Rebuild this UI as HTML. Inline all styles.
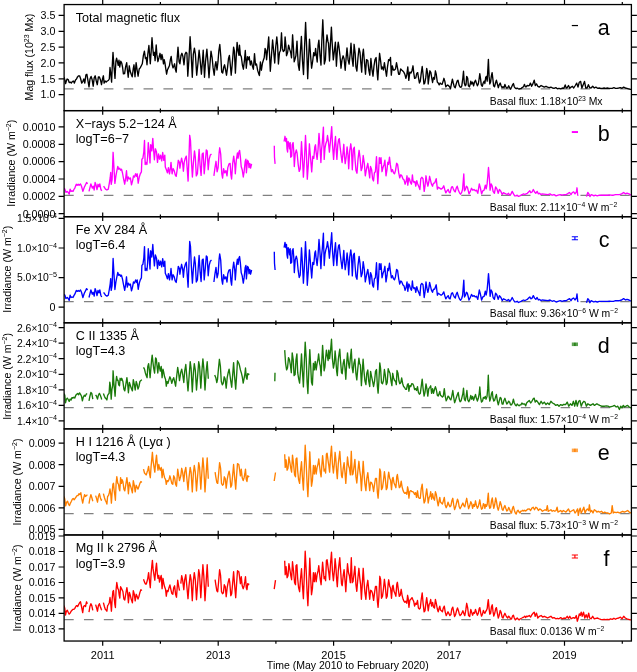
<!DOCTYPE html><html><head><meta charset="utf-8"><style>html,body{margin:0;padding:0;background:#fff;}svg{display:block;will-change:transform;}text{font-family:"Liberation Sans", sans-serif;fill:#000;}</style></head><body>
<svg width="637" height="672" viewBox="0 0 637 672">
<defs><clipPath id="pc"><rect x="64.1" y="0" width="567.30" height="672"/></clipPath></defs>
<line x1="64.1" y1="88.9" x2="631.4" y2="88.9" stroke="#808080" stroke-width="1.1" stroke-dasharray="9.6 10.26"/>
<line x1="64.1" y1="195.4" x2="631.4" y2="195.4" stroke="#808080" stroke-width="1.1" stroke-dasharray="9.6 10.26"/>
<line x1="64.1" y1="301.6" x2="631.4" y2="301.6" stroke="#808080" stroke-width="1.1" stroke-dasharray="9.6 10.26"/>
<line x1="64.1" y1="407.6" x2="631.4" y2="407.6" stroke="#808080" stroke-width="1.1" stroke-dasharray="9.6 10.26"/>
<line x1="64.1" y1="513.6" x2="631.4" y2="513.6" stroke="#808080" stroke-width="1.1" stroke-dasharray="9.6 10.26"/>
<line x1="64.1" y1="619.6" x2="631.4" y2="619.6" stroke="#808080" stroke-width="1.1" stroke-dasharray="9.6 10.26"/>
<path d="M64.0 76.9L64.8 80.0L65.6 83.6L66.3 81.0L67.1 79.0L68.2 79.5L69.2 82.6L70.2 82.1L71.3 83.1L72.3 81.6L73.4 81.0L74.4 83.1L75.5 80.0L76.5 79.0L77.5 76.9L78.6 75.8L79.6 75.8L80.7 79.0L81.7 83.1L82.8 81.6L83.8 79.0L84.8 83.1L85.9 74.8L86.9 74.3L88.2 82.1L89.0 86.8L90.0 79.0L91.1 76.4L92.1 79.5L93.2 86.2L94.2 77.9L95.2 75.8L96.3 81.0L97.3 84.7L98.4 76.9L99.4 76.9L100.5 80.0L101.5 84.7L102.5 79.0L103.4 75.8L104.1 83.1L105.1 81.0L106.2 82.1L107.2 81.0L108.3 80.5L109.3 79.0L110.0 67.5L110.9 74.8L111.6 82.1L112.4 63.3L113.0 52.4L113.8 64.4L115.0 78.4L115.9 61.2L116.6 58.1L117.3 61.2L118.2 65.4L119.0 60.2L119.7 67.0L120.8 61.2L121.8 63.3L122.6 67.5L123.4 73.8L124.6 73.6L125.6 66.9L126.7 62.7L127.4 70.0L128.2 77.3L129.3 65.8L130.1 71.0L131.2 74.2L132.2 76.8L133.2 69.0L134.0 64.8L135.0 76.8L136.1 62.7L137.1 70.0L138.1 76.2L139.2 69.0L140.2 67.9L141.3 65.8L142.3 63.8L143.4 55.4L144.4 51.2L145.4 58.5L146.2 57.5L147.0 64.8L147.8 54.4L148.9 45.5L149.6 54.4L150.3 63.8L151.2 51.2L152.0 37.7L152.7 47.1L153.5 55.4L154.3 52.3L155.1 60.6L156.2 45.0L156.9 54.4L157.9 61.7L159.0 57.5L160.0 53.3L161.1 59.6L161.9 54.4L162.6 57.5L163.5 63.8L164.2 59.6L164.9 62.7L165.8 69.0L166.6 74.2L167.4 70.0L168.4 67.9L169.4 65.8L170.4 59.6L171.2 56.5L172.0 63.8L173.0 67.9L173.9 65.8L174.6 63.8L175.3 69.0L176.2 72.1L177.0 60.6L178.0 47.1L179.1 61.7L179.9 63.8L181.0 55.4L181.9 53.3L182.9 56.5L184.0 64.8L185.0 54.4L186.0 52.3L186.9 53.3L187.8 76.2L188.9 59.6L190.1 36.7L190.9 49.2L192.3 77.3L193.3 54.4L194.4 48.1L195.4 54.4L196.7 75.2L197.9 63.8L199.1 50.2L200.1 59.6L201.4 74.2L202.4 61.7L203.2 50.2L204.5 77.3L205.5 61.7L206.9 49.2L207.9 61.7L209.0 77.8L210.0 63.8L211.0 51.2L212.1 57.5L213.1 67.9L214.2 75.2L215.2 64.8L215.9 61.7L217.0 70.0L218.0 61.7L218.8 51.2L219.8 44.5L220.8 56.5L221.7 72.1L222.7 73.1L223.8 66.9L224.6 64.8L225.4 69.0L226.5 75.2L227.5 67.9L228.5 58.5L229.4 55.4L230.2 63.8L231.2 75.2L232.1 65.8L233.6 47.1L234.4 51.2L235.4 73.1L236.2 57.5L237.1 42.4L238.1 51.2L239.0 55.4L239.5 45.2L240.3 54.6L241.3 56.7L242.4 65.0L243.4 69.2L244.5 59.8L245.3 50.5L246.3 68.2L247.4 56.7L248.2 59.8L249.2 56.7L250.3 65.0L251.3 60.9L252.4 66.1L253.4 69.2L254.5 53.6L255.5 65.0L256.5 64.0L257.6 70.2L258.6 73.4L259.4 75.5L260.4 61.9L261.4 70.2L262.5 63.0L263.5 59.8L264.2 57.8L265.1 48.4L265.9 50.5L266.6 59.8L267.7 48.4L268.7 36.9L269.6 55.7L270.3 71.3L271.3 57.8L272.6 40.0L273.6 50.5L274.7 63.0L275.7 47.3L276.8 36.9L277.6 45.2L278.4 64.0L279.5 52.5L280.5 50.5L281.5 32.8L282.3 48.4L283.3 51.5L284.4 50.5L285.1 36.9L285.9 45.2L286.5 55.7L287.6 52.5L288.6 45.2L289.7 49.4L290.7 52.5L291.5 57.8L292.6 34.8L293.4 47.3L294.2 61.9L295.1 58.8L295.9 55.7L297.0 41.1L297.6 53.7L298.3 65.1L299.3 70.3L300.4 51.6L301.4 36.5L302.5 61.0L303.5 74.5L304.5 48.5L305.6 22.4L306.6 46.4L307.7 78.7L308.7 55.8L309.5 39.1L310.6 55.8L311.6 68.2L312.7 61.0L313.7 52.6L314.8 55.8L315.6 48.5L316.4 55.8L317.2 62.0L318.1 45.3L318.9 40.1L320.0 55.8L321.0 65.1L321.8 41.2L322.8 19.8L323.6 39.1L324.3 64.1L325.4 59.9L326.2 43.2L327.0 34.9L327.9 41.2L328.5 43.2L329.5 61.0L330.4 44.3L331.4 27.1L332.2 43.2L333.3 59.9L334.3 51.6L335.4 42.2L336.4 66.2L337.5 48.5L338.2 42.2L338.9 46.4L340.0 55.8L341.0 68.2L342.0 59.9L343.1 55.8L344.1 58.9L345.2 70.3L346.2 56.8L347.0 47.9L348.1 59.9L349.1 64.1L350.2 53.7L351.0 43.2L352.0 57.8L353.1 66.2L354.1 44.3L355.2 53.7L355.9 66.9L356.9 71.0L358.0 57.5L359.0 48.1L360.0 52.3L360.9 63.8L361.7 72.1L362.5 55.4L363.4 49.2L364.4 61.7L365.5 74.2L366.5 59.6L367.8 60.6L368.8 70.0L369.8 75.2L370.9 58.5L371.9 69.0L373.0 76.2L374.0 65.8L375.0 59.6L376.1 57.5L376.9 70.0L377.8 79.9L378.6 66.9L379.6 53.3L380.7 61.7L381.5 69.0L382.3 66.9L383.4 70.0L384.4 62.7L385.5 70.0L386.5 76.2L387.5 66.9L388.6 59.6L389.6 60.6L390.5 57.5L391.3 75.2L392.3 65.8L393.4 70.0L394.4 70.0L395.5 69.0L396.5 62.7L397.5 67.9L398.6 74.2L399.6 74.2L400.7 69.0L401.7 70.0L402.8 71.0L403.8 72.1L404.8 74.2L405.9 78.3L406.9 74.2L407.8 66.9L408.8 80.4L409.8 72.1L410.9 73.1L411.9 71.0L413.0 65.8L413.7 72.6L414.6 78.3L415.8 77.8L416.7 73.6L417.7 72.6L418.6 78.3L419.4 83.0L420.3 81.1L421.2 73.6L422.2 66.5L423.1 74.5L423.9 84.0L424.8 83.0L425.8 77.4L426.7 68.4L427.7 73.6L428.2 84.0L429.2 76.4L429.9 70.8L430.9 72.6L431.8 78.3L432.6 82.5L433.5 77.4L434.5 79.2L435.4 70.8L436.3 74.5L437.3 82.1L438.2 83.0L439.2 84.9L440.1 83.0L441.1 84.0L442.0 84.4L442.9 82.1L443.9 78.3L444.8 81.1L445.8 86.8L446.7 85.8L447.7 84.9L448.6 85.8L449.5 86.8L450.5 88.7L451.4 84.0L452.4 79.2L453.3 83.0L454.3 86.8L455.2 87.7L456.2 84.0L457.1 81.1L458.0 80.2L459.0 84.9L459.9 86.8L460.9 87.3L461.8 85.8L462.8 78.3L463.5 71.2L464.3 83.0L465.2 85.8L466.0 84.9L466.7 76.4L467.7 78.3L468.4 85.8L469.4 86.8L470.3 84.0L470.8 81.1L471.7 84.0L472.6 82.1L473.6 85.8L474.5 82.1L475.5 80.2L476.4 83.0L477.4 85.8L478.3 84.0L479.2 78.3L479.8 73.6L480.6 79.2L481.3 84.9L482.3 86.3L483.2 83.0L484.2 81.1L484.9 83.5L485.7 77.4L486.4 76.4L487.2 81.1L487.7 71.7L488.4 59.4L489.1 76.4L489.8 84.0L490.6 82.1L491.3 76.4L492.1 72.6L492.8 78.3L493.6 85.8L494.5 86.8L495.5 83.0L496.4 80.2L497.4 84.0L498.3 87.7L499.2 84.9L500.2 83.0L501.1 85.8L502.1 87.7L503.0 86.8L504.0 87.7L504.9 84.4L505.8 86.8L506.8 88.2L507.7 87.7L508.7 85.8L509.6 87.7L510.6 89.2L511.5 87.3L512.5 84.9L513.4 83.5L514.3 86.8L515.3 88.2L516.2 88.7L517.2 88.2L518.1 88.7L519.1 89.2L520.0 88.7L520.9 88.7L521.9 87.7L522.8 87.3L523.8 85.8L524.5 84.4L525.3 86.8L526.2 86.8L527.2 85.4L528.1 85.8L529.3 85.5L530.4 83.1L531.6 86.3L532.9 83.9L534.2 80.1L535.3 85.5L536.5 83.9L537.8 86.3L539.4 87.1L541.1 85.5L542.7 86.3L544.3 87.1L546.0 86.3L547.6 87.1L549.2 87.6L550.9 87.1L552.5 88.0L554.1 88.3L555.8 87.6L557.4 88.8L559.0 88.3L560.7 88.8L562.3 88.0L563.9 88.3L565.2 85.0L566.2 88.0L567.2 87.6L568.5 85.5L569.8 88.3L571.1 87.1L572.4 86.3L573.7 88.0L575.3 85.5L576.7 83.1L578.0 87.1L579.3 82.2L580.6 81.4L581.9 88.0L583.2 84.7L584.5 81.4L585.8 88.0L587.1 88.0L588.4 84.7L589.7 87.6L591.0 88.0L592.7 86.3L594.3 88.0L595.9 87.1L597.6 88.3L599.2 88.0L600.8 88.3L602.4 88.3L604.1 88.0L605.7 88.3L607.3 88.0L609.0 88.3L610.6 88.3L612.2 88.3L613.9 87.6L615.5 88.3L617.1 88.3L618.8 88.0L620.4 87.6L622.0 88.3L623.7 87.1L625.3 88.0L626.9 88.3L628.6 88.8L630.5 89.3L631.8 89.3" fill="none" stroke="#000000" stroke-width="1.35" stroke-linejoin="round" clip-path="url(#pc)"/>
<path d="M64.0 188.1L64.9 189.1L65.9 192.4L67.3 191.4L68.2 192.4L69.2 194.2L70.1 189.1L71.1 191.4L72.0 190.9L73.0 191.4L73.9 189.5L74.8 188.1L76.3 184.3L77.2 185.3L78.2 184.3L79.1 185.3L80.5 183.9L81.5 186.2L82.9 191.4L84.3 187.2L86.6 182.5L87.6 183.9M89.0 191.4L90.9 183.9L92.3 188.1L93.2 186.2L94.2 190.0L95.1 182.5L96.1 185.3L97.0 189.5L98.0 184.3L98.9 186.7L99.8 183.9L100.8 189.1L101.7 190.9M103.6 186.2L105.5 189.1L106.9 190.0L108.3 189.1L109.3 183.4L110.2 177.7L110.7 172.5L111.2 184.3L112.1 179.6L113.1 152.3L114.0 168.3L114.9 183.4L115.9 175.8L116.8 171.1L117.8 166.4L118.7 169.2L119.7 168.3L120.6 170.2L121.5 169.2L122.5 173.0L123.6 179.0L124.7 184.2L125.7 178.0L126.5 170.7L127.3 181.1L128.3 177.0L129.4 179.0L130.4 178.0L131.5 184.8L132.5 181.1L133.5 175.9L134.6 177.0L135.6 173.8L136.7 176.4L137.2 173.8L138.2 183.2L139.3 177.0L140.3 173.8L141.4 171.8L141.9 159.2L142.9 158.2L143.8 152.0L144.5 140.5L145.2 164.5L146.0 162.4L146.9 164.5L147.6 157.2L148.3 142.6L149.2 152.0L150.0 162.9L150.7 144.7L151.8 150.9L152.8 138.4L153.5 148.8L154.4 159.8L155.4 148.8L156.5 152.0L157.5 162.4L158.5 154.0L159.6 159.2L160.6 155.1L161.7 160.8L162.7 152.5L163.8 160.3L164.8 155.1L165.3 167.1L166.4 169.7L167.4 172.8L168.4 167.6L169.5 173.8L170.5 167.6L171.0 162.4L172.1 173.8L173.1 168.6L174.2 170.7L175.2 174.9L176.2 176.4L177.3 168.6L178.3 160.3L179.4 162.4L179.9 168.1L180.6 163.4L181.6 158.2L182.7 163.4L183.4 171.2L184.2 162.4L185.3 158.2L186.3 156.1L187.2 168.6L188.1 181.1L188.9 159.2L189.7 135.3L190.5 140.5L191.3 159.2L192.4 177.0L193.4 162.4L194.5 150.9L195.3 157.2L196.3 175.9L197.4 173.8L198.4 159.2L199.1 149.4L200.1 165.5L201.1 175.4L202.2 154.0L203.2 153.0L204.2 173.8L205.3 162.4L206.3 149.9L207.2 150.9L208.2 169.7L209.2 159.2L210.3 155.1L211.5 154.0M213.9 175.9L215.0 167.6L216.0 161.3L217.1 171.8L218.1 167.6L219.1 153.0L219.7 147.8L220.7 154.0L221.8 173.8L222.6 178.0L223.6 168.6L224.7 172.8L225.9 170.7L227.0 175.9L227.8 167.6L229.0 163.9L230.1 163.4L230.9 174.9L231.6 179.0L232.7 163.4L233.7 156.1L234.8 164.5L235.3 173.8L236.3 160.3L237.4 153.0L238.1 158.2L238.9 152.0L239.6 150.4L240.4 157.2L241.2 166.5L242.2 169.7L243.3 177.0L244.1 171.8L245.2 161.3L245.9 159.2L246.4 172.8L247.5 160.3L248.3 161.3L249.0 167.6L249.8 163.4L250.6 168.1L251.6 163.9M274.3 145.7L274.5 157.2L275.1 163.9M284.1 141.5L285.0 136.3L285.8 141.5L286.5 138.4L287.0 148.8L287.6 152.0L288.1 141.5L288.9 143.6L289.6 148.8L290.2 142.6L290.7 157.2L291.7 156.1L292.2 144.7L293.1 142.6L293.8 152.0L294.3 166.5L295.2 154.0L296.3 150.0L297.1 153.2L298.2 164.6L299.2 171.4L300.2 168.8L301.5 141.7L302.3 155.2L303.4 177.1L304.4 160.5L305.5 135.5L306.3 151.1L307.3 179.2L308.4 163.6L309.4 143.8L310.5 157.3L311.7 171.9L312.8 156.3L313.8 158.4L314.8 146.9L315.5 144.8L316.1 152.1L317.1 159.4L318.0 150.0L319.0 133.4L319.8 143.8L320.9 162.5L321.6 149.0L322.3 142.8L323.4 127.1L324.2 159.4L325.0 148.0L325.8 143.8L326.8 140.7L327.5 135.5L328.4 141.7L329.4 152.1L330.5 140.7L331.7 126.6L332.5 144.8L333.6 159.4L334.6 144.8L335.5 136.5L336.2 150.0L336.9 159.4L337.8 144.8L338.6 139.6L339.3 138.6L340.1 146.9L341.1 155.2L342.1 162.5L343.0 153.2L343.8 144.3L344.5 156.3L345.2 163.6L346.1 157.3L347.1 146.9L348.0 155.2L348.7 168.8L349.7 151.1L350.8 143.8L351.5 150.0L352.3 169.8L353.4 149.0L354.3 147.2L355.1 160.2L356.0 170.6L357.0 173.2L358.0 159.2L359.1 150.3L360.1 158.1L361.2 170.6L362.2 167.5L363.2 155.5L364.3 163.3L365.3 175.8L366.6 168.5L367.8 163.3L368.9 171.7L369.7 177.9L370.5 166.5L371.6 169.6L372.6 179.0L373.5 181.0L374.4 172.7L375.4 171.7L376.5 156.6L377.2 171.7L377.8 183.6L378.7 169.6L379.3 157.6L380.1 163.3L381.0 157.6L382.0 171.7L383.0 167.5L384.1 164.4L384.9 160.2L386.0 175.8L387.0 169.6L387.8 162.3L388.5 164.4L389.5 157.1L390.3 164.4L391.4 171.7L392.4 169.6L393.5 172.7L394.5 173.8L395.5 170.6L396.6 163.3L397.6 164.4L398.7 172.7L399.7 177.9L400.8 174.8L401.8 175.8L403.0 179.0L404.1 180.0L405.1 184.2L406.2 181.0L407.0 175.8L407.8 185.2L408.8 177.9L409.5 179.0L410.3 182.1L411.4 184.2L411.7 182.9L412.4 174.9L413.0 180.6L414.0 182.5L414.9 181.5L415.8 186.2L416.8 180.6L417.5 183.4L418.7 186.2L419.9 189.5L420.8 178.7L421.8 177.3L423.0 178.7L424.2 191.4L425.1 185.3L426.0 175.8L427.0 182.5L427.9 186.2L428.9 181.5L429.6 176.3L430.6 180.6L431.5 184.3L432.5 186.2L433.4 183.4L434.7 182.9L436.2 178.7L437.4 189.1L438.3 187.2L439.7 188.1L441.1 189.1L442.5 188.1L443.8 185.8L444.9 190.0L445.8 192.8L447.0 190.9L448.2 189.5L449.2 192.4L450.1 192.8L451.5 187.2L452.5 186.7L453.4 189.1L454.3 190.9L455.3 191.9L456.2 188.1L457.2 186.2L458.3 190.0L459.5 192.8L460.5 194.2L461.7 192.4L462.6 189.1L463.8 174.0L464.5 190.9L465.5 189.1L466.4 186.2L467.4 187.2L468.3 190.9L469.0 193.9L470.3 191.4L471.5 188.3L472.8 190.2L474.0 189.5L475.3 190.8L476.5 190.2L477.8 193.3L479.3 183.9L480.3 187.6L481.6 193.9L482.8 190.8L484.1 190.2L485.3 185.1L486.2 188.9L487.1 183.9L487.8 176.3L488.5 167.5L489.4 178.8L490.1 190.2L491.1 183.9L492.1 185.8L493.1 191.4L494.4 193.3L495.6 187.0L496.9 188.9L498.2 193.3L499.4 189.5L500.9 191.4L502.2 194.5L503.4 192.7L504.7 193.3L505.9 193.9L507.2 194.5L508.5 193.3L509.7 195.2L511.0 193.9L512.2 191.4L513.5 193.9L514.7 195.8L516.0 195.8L517.2 195.2L518.5 196.4L519.8 195.8L521.0 195.2L522.3 194.5L523.5 193.9L524.8 194.5L526.0 193.9L527.3 193.3L528.6 192.0L529.8 190.8L530.8 192.7L532.1 192.0L533.3 189.5L534.6 192.0L535.8 193.3L537.1 191.4L538.4 193.9L539.6 193.3L540.9 194.5L542.1 193.9L548.0 194.6L550.0 193.9L552.1 195.2L554.1 194.6L556.1 195.9L558.1 195.2L560.2 194.6L562.2 195.2L564.2 194.6L566.2 194.6L568.3 193.2L569.6 192.5L571.0 194.6L572.3 192.5L573.7 191.9L575.0 193.9L576.4 191.9L577.0 187.8L577.7 195.2L578.4 195.5M586.5 196.6L587.8 192.5L588.9 193.9L589.9 196.6L591.2 194.6L592.6 195.2L593.9 195.9L595.3 195.2L597.3 195.9L599.3 195.2L601.3 195.2L603.4 195.2L605.4 195.2L607.4 195.2L609.4 195.0L611.5 195.2L613.5 195.2L615.5 194.6L617.5 194.6L619.5 194.6L621.6 193.9L623.6 192.5L625.6 193.9L627.0 193.2L629.0 193.9L631.0 195.2" fill="none" stroke="#ff00ff" stroke-width="1.35" stroke-linejoin="round" clip-path="url(#pc)"/>
<path d="M64.0 294.2L64.9 295.2L65.9 298.5L67.3 297.5L68.2 298.5L69.2 300.3L70.1 295.2L71.1 297.5L72.0 297.0L73.0 297.5L73.9 295.6L74.8 294.2L76.3 290.4L77.2 291.4L78.2 290.4L79.1 291.4L80.5 290.0L81.5 292.3L82.9 297.5L84.3 293.3L86.6 288.6L87.6 290.0M89.0 297.5L90.9 290.0L92.3 294.2L93.2 292.3L94.2 296.1L95.1 288.6L96.1 291.4L97.0 295.6L98.0 290.4L98.9 292.8L99.8 290.0L100.8 295.2L101.7 297.0M103.6 292.3L105.5 295.2L106.9 296.1L108.3 295.2L109.3 289.5L110.2 283.8L110.7 278.6L111.2 290.4L112.1 285.7L113.1 258.4L114.0 274.4L114.9 289.5L115.9 281.9L116.8 277.2L117.8 272.5L118.7 275.3L119.7 274.4L120.6 276.3L121.5 275.3L122.5 279.1L123.6 285.1L124.7 290.4L125.7 284.1L126.5 276.8L127.3 287.2L128.3 283.1L129.4 285.1L130.4 284.1L131.5 290.9L132.5 287.2L133.5 282.0L134.6 283.1L135.6 279.9L136.7 282.5L137.2 279.9L138.2 289.3L139.3 283.1L140.3 279.9L141.4 277.9L141.9 265.4L142.9 264.3L143.8 258.1L144.5 246.6L145.2 270.6L146.0 268.5L146.9 270.6L147.6 263.3L148.3 248.7L149.2 258.1L150.0 269.0L150.7 250.8L151.8 257.0L152.8 244.5L153.5 254.9L154.4 265.9L155.4 254.9L156.5 258.1L157.5 268.5L158.5 260.1L159.6 265.4L160.6 261.2L161.7 266.9L162.7 258.6L163.8 266.4L164.8 261.2L165.3 273.2L166.4 275.8L167.4 278.9L168.4 273.7L169.5 279.9L170.5 273.7L171.0 268.5L172.1 279.9L173.1 274.7L174.2 276.8L175.2 281.0L176.2 282.5L177.3 274.7L178.3 266.4L179.4 268.5L179.9 274.2L180.6 269.5L181.6 264.3L182.7 269.5L183.4 277.3L184.2 268.5L185.3 264.3L186.3 262.2L187.2 274.7L188.1 287.2L188.9 265.4L189.7 241.4L190.5 246.6L191.3 265.4L192.4 283.1L193.4 268.5L194.5 257.0L195.3 263.3L196.3 282.0L197.4 279.9L198.4 265.4L199.1 255.5L200.1 271.6L201.1 281.5L202.2 260.1L203.2 259.1L204.2 279.9L205.3 268.5L206.3 256.0L207.2 257.0L208.2 275.8L209.2 265.4L210.3 261.2L211.5 260.1M213.9 282.0L215.0 273.7L216.0 267.4L217.1 277.9L218.1 273.7L219.1 259.1L219.7 253.9L220.7 260.1L221.8 279.9L222.6 284.1L223.6 274.7L224.7 278.9L225.9 276.8L227.0 282.0L227.8 273.7L229.0 270.0L230.1 269.5L230.9 281.0L231.6 285.1L232.7 269.5L233.7 262.2L234.8 270.6L235.3 279.9L236.3 266.4L237.4 259.1L238.1 264.3L238.9 258.1L239.6 256.5L240.4 263.3L241.2 272.6L242.2 275.8L243.3 283.1L244.1 277.9L245.2 267.4L245.9 265.4L246.4 278.9L247.5 266.4L248.3 267.4L249.0 273.7L249.8 269.5L250.6 274.2L251.6 270.0M274.3 251.8L274.5 263.3L275.1 270.0M284.1 247.6L285.0 242.4L285.8 247.6L286.5 244.5L287.0 254.9L287.6 258.1L288.1 247.6L288.9 249.7L289.6 254.9L290.2 248.7L290.7 263.3L291.7 262.2L292.2 250.8L293.1 248.7L293.8 258.1L294.3 272.6L295.2 260.1L296.3 256.1L297.1 259.3L298.2 270.7L299.2 277.5L300.2 274.9L301.5 247.8L302.3 261.4L303.4 283.2L304.4 266.6L305.5 241.6L306.3 257.2L307.3 285.3L308.4 269.7L309.4 249.9L310.5 263.4L311.7 278.0L312.8 262.4L313.8 264.5L314.8 253.0L315.5 250.9L316.1 258.2L317.1 265.5L318.0 256.1L319.0 239.5L319.8 249.9L320.9 268.6L321.6 255.1L322.3 248.8L323.4 233.2L324.2 265.5L325.0 254.1L325.8 249.9L326.8 246.8L327.5 241.6L328.4 247.8L329.4 258.2L330.5 246.8L331.7 232.7L332.5 250.9L333.6 265.5L334.6 250.9L335.5 242.6L336.2 256.1L336.9 265.5L337.8 250.9L338.6 245.7L339.3 244.7L340.1 253.0L341.1 261.4L342.1 268.6L343.0 259.3L343.8 250.4L344.5 262.4L345.2 269.7L346.1 263.4L347.1 253.0L348.0 261.4L348.7 274.9L349.7 257.2L350.8 249.9L351.5 256.1L352.3 275.9L353.4 255.1L354.3 253.3L355.1 266.3L356.0 276.7L357.0 279.3L358.0 265.3L359.1 256.4L360.1 264.2L361.2 276.7L362.2 273.6L363.2 261.6L364.3 269.4L365.3 281.9L366.6 274.6L367.8 269.4L368.9 277.8L369.7 284.0L370.5 272.6L371.6 275.7L372.6 285.1L373.5 287.1L374.4 278.8L375.4 277.8L376.5 262.7L377.2 277.8L377.8 289.7L378.7 275.7L379.3 263.7L380.1 269.4L381.0 263.7L382.0 277.8L383.0 273.6L384.1 270.5L384.9 266.3L386.0 281.9L387.0 275.7L387.8 268.4L388.5 270.5L389.5 263.2L390.3 270.5L391.4 277.8L392.4 275.7L393.5 278.8L394.5 279.9L395.5 276.7L396.6 269.4L397.6 270.5L398.7 278.8L399.7 284.0L400.8 280.9L401.8 281.9L403.0 285.1L404.1 286.1L405.1 290.3L406.2 287.1L407.0 281.9L407.8 291.3L408.8 284.0L409.5 285.1L410.3 288.2L411.4 290.3L411.7 289.0L412.4 281.0L413.0 286.7L414.0 288.6L414.9 287.6L415.8 292.3L416.8 286.7L417.5 289.5L418.7 292.3L419.9 295.6L420.8 284.8L421.8 283.4L423.0 284.8L424.2 297.5L425.1 291.4L426.0 281.9L427.0 288.6L427.9 292.3L428.9 287.6L429.6 282.4L430.6 286.7L431.5 290.4L432.5 292.3L433.4 289.5L434.7 289.0L436.2 284.8L437.4 295.2L438.3 293.3L439.7 294.2L441.1 295.2L442.5 294.2L443.8 291.9L444.9 296.1L445.8 298.9L447.0 297.0L448.2 295.6L449.2 298.5L450.1 298.9L451.5 293.3L452.5 292.8L453.4 295.2L454.3 297.0L455.3 298.0L456.2 294.2L457.2 292.3L458.3 296.1L459.5 298.9L460.5 300.3L461.7 298.5L462.6 295.2L463.8 280.1L464.5 297.0L465.5 295.2L466.4 292.3L467.4 293.3L468.3 297.0L469.0 300.0L470.3 297.5L471.5 294.4L472.8 296.3L474.0 295.6L475.3 296.9L476.5 296.3L477.8 299.4L479.3 290.0L480.3 293.7L481.6 300.0L482.8 296.9L484.1 296.3L485.3 291.2L486.2 295.0L487.1 290.0L487.8 282.4L488.5 273.6L489.4 284.9L490.1 296.3L491.1 290.0L492.1 291.9L493.1 297.5L494.4 299.4L495.6 293.1L496.9 295.0L498.2 299.4L499.4 295.6L500.9 297.5L502.2 300.6L503.4 298.8L504.7 299.4L505.9 300.0L507.2 300.6L508.5 299.4L509.7 301.3L511.0 300.0L512.2 297.5L513.5 300.0L514.7 301.9L516.0 301.9L517.2 301.3L518.5 302.5L519.8 301.9L521.0 301.3L522.3 300.6L523.5 300.0L524.8 300.6L526.0 300.0L527.3 299.4L528.6 298.1L529.8 296.9L530.8 298.8L532.1 298.1L533.3 295.6L534.6 298.1L535.8 299.4L537.1 297.5L538.4 300.0L539.6 299.4L540.9 300.6L542.1 300.0L548.0 300.7L550.0 300.0L552.1 301.3L554.1 300.7L556.1 302.0L558.1 301.3L560.2 300.7L562.2 301.3L564.2 300.7L566.2 300.7L568.3 299.3L569.6 298.6L571.0 300.7L572.3 298.6L573.7 298.0L575.0 300.0L576.4 298.0L577.0 293.9L577.7 301.3L578.4 301.6M586.5 302.7L587.8 298.6L588.9 300.0L589.9 302.7L591.2 300.7L592.6 301.3L593.9 302.0L595.3 301.3L597.3 302.0L599.3 301.3L601.3 301.3L603.4 301.3L605.4 301.3L607.4 301.3L609.4 301.1L611.5 301.3L613.5 301.3L615.5 300.7L617.5 300.7L619.5 300.7L621.6 300.0L623.6 298.6L625.6 300.0L627.0 299.3L629.0 300.0L631.0 301.3" fill="none" stroke="#0000ff" stroke-width="1.35" stroke-linejoin="round" clip-path="url(#pc)"/>
<path d="M64.0 393.4L64.8 395.3L65.5 402.8L66.4 399.1L67.3 398.1L68.2 399.5L69.2 401.4L70.1 399.1L71.1 400.0L72.0 397.6L73.0 398.1L73.9 397.2L74.8 398.1L75.8 395.3L76.7 394.3L77.7 393.4L78.6 394.8L79.6 392.9L80.5 394.3L81.5 396.2L82.4 400.9L83.3 397.2L84.3 395.3L85.2 396.2L86.2 394.3L87.1 393.4M89.0 400.9L89.9 396.2L90.9 392.5L91.8 393.4L92.8 399.1M95.6 394.8L96.5 396.2L97.5 399.1L98.4 395.3L99.4 393.4L100.3 395.3L101.3 398.1L101.7 399.5M103.4 393.4L104.4 396.2L105.3 398.1L106.3 399.1L106.9 400.0L107.6 395.3L108.3 394.3L109.1 393.4L109.8 382.1L110.4 385.8L111.2 399.1L111.9 389.6L112.6 385.8L113.1 370.8L113.8 382.1L114.5 389.6L115.1 396.2L115.9 382.1L116.6 376.4L117.3 380.2L118.0 380.2L118.7 384.9L119.5 385.8L120.1 378.3L121.1 380.2L121.7 378.3L122.9 381.5L123.9 389.1L124.8 390.9L126.0 383.4L126.9 377.7L127.7 384.3L128.4 392.8L129.4 382.5L130.3 385.3L131.2 388.1L132.4 390.9L133.3 379.6L134.3 384.3L135.2 390.0L136.2 381.5L137.1 384.3L138.0 389.1L139.0 386.2L139.9 381.5L140.9 380.6L141.8 379.6M143.5 367.4L144.5 369.2L145.4 373.0L146.3 375.8L147.1 377.7L147.8 366.4L148.6 363.6L149.4 370.2L150.1 377.7L150.9 368.3L151.6 359.8L152.2 355.1L152.9 361.7L153.7 368.3L154.6 373.0L155.6 357.9L156.3 358.9L157.1 366.4L157.8 373.0L158.8 362.6L159.5 367.4L160.3 371.1L161.2 366.4L162.1 377.7L163.0 369.2L163.7 372.1L164.6 376.8L165.6 379.6L166.3 386.2L167.1 381.5L168.0 383.4L169.0 379.6L169.9 376.8L170.9 379.6L171.8 383.4L172.8 379.6L173.7 377.7L174.6 381.5L175.6 386.2L176.5 377.7L177.7 367.4L178.6 373.0L179.5 380.6L180.8 372.1L181.7 369.2L182.6 374.0L183.8 382.5L184.7 371.1L185.8 364.5L186.8 376.8L188.0 390.9L189.0 377.7L190.2 361.7L191.1 368.3L192.3 391.9L193.4 373.0L194.3 363.6L195.3 370.2L196.5 390.0L197.5 377.7L198.7 361.7L199.6 366.4L200.8 388.1L201.9 371.1L202.9 358.9L203.8 368.3L205.0 390.0L206.2 371.1L207.2 361.7L208.3 378.7M214.7 374.9L215.8 377.7L216.8 382.5L217.5 379.6L218.5 368.3L219.4 359.3L220.4 366.4L221.3 381.5L222.3 384.8L223.2 383.4L224.2 376.8L225.1 378.7L226.2 388.1L227.2 377.7L228.1 373.0L229.1 369.2L229.8 374.0L230.8 381.5L231.7 387.2L232.6 375.8L233.6 362.6L234.5 375.8L235.7 389.1L236.6 375.8L237.5 360.8L238.8 363.3L239.4 365.2L240.4 369.9L241.3 372.7L242.2 376.5L243.2 383.1L244.1 378.4L244.8 374.6L245.5 368.0L246.3 377.5L247.0 379.3L247.7 373.7L248.4 374.6L249.3 373.7M275.0 372.7L274.8 381.2M284.7 350.1L285.6 363.3L286.6 369.9L287.5 368.0L288.5 357.6L289.4 359.5L290.4 365.2L291.3 372.7L292.2 352.9L293.2 359.5L294.1 375.6L295.1 374.6L296.0 359.5L296.9 353.9L297.7 372.7L298.6 378.4L299.6 383.1L300.5 370.8L301.5 353.9L302.4 370.8L303.4 386.9L304.3 363.3L305.2 342.1L306.2 358.6L307.1 382.2L307.9 393.5L308.8 370.8L309.8 349.6L310.7 366.1L311.5 382.2L312.4 385.0L313.4 363.3L314.3 369.9L315.2 361.4L316.2 369.9L317.1 363.3L318.1 358.6L318.6 353.9L319.6 363.3L320.3 366.1L321.1 375.6L321.8 361.4L322.6 345.4L323.4 358.6L324.1 370.8L324.9 367.1L325.6 358.6L326.4 350.1L327.1 354.8L328.1 360.5L328.8 350.1L329.6 358.6L330.5 351.0L331.5 339.2L332.4 358.6L333.4 368.0L334.3 363.3L335.1 351.0L335.8 358.6L336.6 370.8L337.3 375.6L338.3 359.5L339.2 352.9L339.8 349.2L340.5 360.5L341.5 372.7L342.2 373.7L343.2 363.3L344.1 359.5L345.1 369.9L345.8 379.3L346.8 361.4L347.5 352.9L348.5 363.3L349.4 368.0L350.3 358.6L351.3 349.2L352.2 368.0L353.0 372.7L353.9 363.3L354.9 359.2L355.9 373.3L356.8 379.9L357.8 368.6L358.9 358.2L359.7 363.9L360.4 364.8L361.4 385.6L362.3 371.4L363.1 359.2L364.0 371.4L364.9 380.8L365.9 384.6L366.8 373.3L367.8 370.0L368.7 380.8L369.7 386.5L370.6 371.4L371.5 376.1L372.5 380.8L373.6 386.5L374.6 380.8L375.5 371.4L376.5 369.5L377.4 386.5L378.1 393.1L378.9 380.8L379.8 362.9L380.6 368.6L381.5 382.7L382.5 383.7L383.4 380.8L384.4 369.5L385.3 375.2L386.3 384.6L387.2 382.7L388.2 368.6L389.1 371.4L390.0 373.3L391.0 380.8L391.9 385.6L392.7 373.3L393.6 378.0L394.6 380.8L395.5 380.8L396.3 384.6L397.0 370.5L398.0 373.3L398.9 380.8L399.8 383.7L400.8 382.7L401.7 378.0L402.7 383.7L403.6 386.5L404.6 387.5L405.5 389.3L406.5 389.3L407.4 384.6L408.2 383.7L408.9 391.2L409.8 385.6L410.8 386.5L411.7 383.7L412.8 383.9L413.7 385.8L414.6 389.5L415.6 388.6L416.5 390.5L417.5 386.7L418.4 392.4L419.4 394.2L420.3 393.3L421.2 386.7L422.2 379.2L423.1 388.6L424.1 396.1L425.0 392.4L426.0 383.9L426.9 388.6L427.8 396.1L428.8 388.6L429.7 387.6L430.7 385.8L431.6 393.3L432.6 388.6L433.5 393.3L434.5 389.5L435.4 386.7L436.3 389.5L437.3 395.2L438.2 396.1L439.2 393.3L439.8 391.4L440.5 395.2L441.4 396.1L442.4 397.1L443.3 396.1L444.3 388.6L445.2 396.1L446.2 400.8L447.1 399.0L448.0 396.1L449.0 397.1L449.9 399.0L450.9 399.9L451.8 396.1L452.8 390.5L453.7 397.1L454.6 402.7L455.6 399.9L456.5 397.1L457.5 394.2L458.2 392.4L459.2 399.0L460.1 401.8L461.1 400.8L462.0 397.1L462.9 393.3L463.5 388.1L464.3 399.0L465.2 400.8L466.2 396.1L466.9 390.5L467.8 399.9L468.8 401.8L469.7 399.9L470.8 395.5L471.7 399.2L472.6 396.4L473.6 400.2L474.5 397.4L475.5 394.5L476.4 398.3L477.4 401.1L478.3 398.3L479.2 393.6L479.8 387.0L480.6 397.4L481.5 402.1L482.5 401.1L483.4 397.4L484.3 398.3L485.3 396.4L486.0 399.2L487.0 396.4L487.7 388.9L488.3 375.2L489.1 395.5L489.8 401.1L490.6 398.3L491.5 393.6L492.3 391.7L493.0 398.3L493.8 401.1L494.7 400.2L495.7 396.4L496.4 394.5L497.4 401.1L498.3 404.9L499.2 401.1L500.2 397.4L501.1 398.3L502.1 404.0L503.0 404.0L504.0 400.2L504.9 398.3L505.8 401.1L506.8 404.0L507.7 403.0L508.7 401.1L509.6 402.1L510.6 404.9L511.5 404.9L512.5 403.0L513.4 399.2L514.3 403.0L515.3 404.9L516.2 405.8L517.2 404.0L518.1 404.9L519.1 405.8L520.0 404.9L520.9 404.9L521.9 403.0L522.8 404.0L523.8 404.0L524.7 404.0L525.7 405.8L526.6 403.0L527.5 402.1L529.3 400.5L530.6 403.0L531.9 401.3L533.2 398.9L534.2 398.1L535.2 402.1L536.5 400.5L537.8 402.1L539.4 404.6L541.1 401.3L542.7 403.8L544.3 402.1L546.0 404.6L547.6 403.0L549.2 404.6L550.9 401.3L552.5 403.0L554.1 403.8L555.8 405.4L557.4 404.6L559.0 406.2L560.7 404.6L562.3 405.4L563.9 404.3L565.6 404.6L567.2 402.1L568.8 406.2L570.4 403.8L572.1 405.4L573.4 401.3L574.7 406.2L576.0 400.5L577.3 406.2L578.6 401.3L579.9 400.5L581.2 406.2L582.5 403.0L583.8 401.3L585.1 402.1L586.4 406.2L587.8 403.8L589.1 404.6L590.4 405.4L591.7 404.6L593.0 403.8L594.3 405.4L595.6 404.6L596.9 403.8L598.2 404.6L599.8 405.4L601.5 406.2L603.1 406.2L604.7 406.2L606.4 405.9L608.0 406.2L609.6 407.0L611.3 406.6L612.9 406.2L614.5 405.4L616.2 407.0L617.8 406.2L619.4 409.5L620.7 406.2L622.0 407.9L623.3 405.4L624.7 407.0L626.0 406.2L627.6 405.4L629.2 407.0L630.9 407.9L631.8 407.9" fill="none" stroke="#1a7a0a" stroke-width="1.35" stroke-linejoin="round" clip-path="url(#pc)"/>
<path d="M64.0 496.5L64.8 499.3L65.7 505.9L66.6 502.2L67.6 501.2L68.5 504.1L69.5 505.5L70.4 503.1L71.4 501.2L72.3 499.3L73.2 498.4L74.2 499.8L75.1 498.4L76.1 497.0L77.0 495.6L78.0 495.6L78.9 493.7L79.8 494.6L80.8 492.7L81.7 498.4L82.7 503.1L83.6 498.4L84.6 494.6L85.5 496.5L86.5 495.6L87.4 494.6M89.0 503.6L89.9 498.4L90.9 494.6L91.8 497.5L92.8 501.2M95.6 495.6L96.5 498.4L97.5 502.2L98.4 496.5L99.4 493.7L100.3 497.5L101.3 500.3L101.7 499.3M103.4 493.7L104.4 497.5L105.3 500.3L106.3 502.2L106.9 504.1L107.6 496.5L108.5 495.6L109.3 492.7L110.0 489.0L110.8 494.6L111.4 503.1L112.1 492.7L112.9 484.2L113.5 483.3L114.2 490.8L114.9 495.6L115.4 500.3L116.1 483.3L116.8 476.7L117.8 483.3L118.5 484.2L119.2 489.0L119.8 490.8L120.6 477.6L121.5 483.3L122.0 479.6L122.9 481.5L123.9 489.1L124.8 490.9L126.0 483.4L126.9 477.7L127.7 484.3L128.4 493.8L129.4 482.5L130.3 485.3L131.2 488.1L132.4 492.8L133.3 480.6L134.3 485.3L135.2 491.9L136.2 485.3L137.1 487.2L138.0 489.1L139.0 486.2L139.9 483.4L140.9 481.5L141.8 482.5M143.5 469.2L144.5 473.0L145.4 474.0L146.3 474.9L147.1 472.1L147.8 470.2L148.6 466.4L149.4 473.0L150.3 477.7L151.1 466.4L151.8 458.9L152.4 452.3L153.1 460.8L153.9 466.4L154.8 472.1L155.8 460.8L156.5 455.1L157.3 464.5L158.0 470.2L158.8 464.5L159.5 468.3L160.3 470.2L161.2 467.4L162.1 477.7L163.0 469.2L163.7 474.0L164.6 477.7L165.6 479.6L166.3 484.3L167.1 480.6L168.0 481.5L169.0 479.6L169.9 475.8L170.9 479.6L171.8 483.4L172.8 484.3L173.7 475.8L174.6 477.7L175.6 484.3L176.5 486.2L177.7 469.2L178.6 474.9L179.5 480.6L180.8 475.8L181.7 468.3L182.6 472.1L183.8 481.5L184.7 472.1L185.8 467.4L186.8 477.7L188.0 490.0L189.0 477.7L190.2 467.4L191.1 472.1L192.3 491.9L193.4 473.0L194.3 465.5L195.3 472.1L196.5 490.9L197.5 477.7L198.7 462.6L199.6 467.4L200.8 489.1L201.9 472.1L202.9 457.9L203.8 468.3L205.0 491.9L206.2 473.0L207.2 457.9L208.3 478.7M215.1 472.1L215.8 476.8L216.8 482.5L217.7 483.4L218.7 473.0L219.6 462.6L220.6 468.3L221.5 483.4L222.5 485.3L223.4 484.3L224.3 476.8L225.3 478.7L226.2 488.1L227.2 479.6L228.1 474.9L229.1 471.1L229.8 474.9L230.8 487.2L231.7 485.3L232.6 475.8L233.6 464.5L234.5 475.8L235.7 489.1L236.6 475.8L237.5 463.6L238.8 464.5L239.4 468.3L240.4 475.8L241.3 469.2L242.2 477.7L243.2 480.6L244.1 477.7L244.8 474.0L245.5 469.2L246.3 479.6L247.0 481.5L247.7 475.8L248.4 476.8L249.1 475.8M275.5 472.5L274.2 481.0M284.7 454.2L285.2 467.4L286.1 459.8L287.1 470.2L288.0 468.3L288.9 457.0L289.9 462.6L290.8 468.3L291.6 472.1L292.5 455.1L293.5 463.6L294.6 474.9L295.5 476.8L296.0 458.9L296.9 457.9L297.7 471.1L298.6 479.6L299.6 483.4L300.5 471.1L301.5 461.7L302.4 476.8L303.4 490.0L304.3 468.3L305.2 445.2L306.2 463.6L307.1 484.3L307.9 496.6L308.8 475.8L309.8 451.8L310.7 471.1L311.5 486.2L312.4 480.6L313.4 465.5L314.3 474.0L315.2 465.5L316.2 474.0L317.1 467.4L318.1 463.6L318.8 458.9L319.6 466.4L320.3 472.1L321.1 476.8L321.8 466.4L322.6 455.6L323.4 463.6L324.1 471.1L324.9 469.2L325.6 473.0L326.4 454.2L327.1 453.2L328.1 460.8L328.8 465.5L329.6 472.1L330.5 457.0L331.5 446.1L332.4 463.6L333.4 473.0L334.3 464.5L335.1 452.3L335.8 458.9L336.6 471.1L337.3 478.7L338.3 463.6L339.2 456.0L339.8 451.3L340.5 461.7L341.5 475.8L342.2 477.7L343.2 468.3L344.1 462.6L345.1 474.0L345.8 483.4L346.8 467.4L347.5 457.0L348.5 465.5L349.4 468.3L350.3 474.9L351.3 451.3L352.2 474.9L353.0 474.0L353.9 467.4L354.9 459.4L355.9 476.4L356.8 483.0L357.8 471.7L358.9 461.3L359.8 470.8L360.6 476.4L361.4 490.6L362.3 476.4L363.2 461.3L364.0 473.6L364.9 484.0L365.9 490.6L366.8 478.3L367.8 472.6L368.7 481.1L369.7 490.6L370.6 482.1L371.5 482.5L372.5 484.9L373.6 491.5L374.6 484.0L375.5 478.3L376.5 478.3L377.4 492.5L378.1 498.1L378.9 487.7L379.8 468.9L380.6 471.7L381.5 489.6L382.5 487.7L383.4 481.1L384.4 471.7L385.3 478.3L386.3 489.6L387.2 487.7L388.2 475.5L388.7 472.2L389.7 478.3L390.6 480.2L391.5 489.6L392.5 478.3L393.1 477.4L394.0 483.0L394.9 484.9L395.9 487.7L396.8 476.4L397.4 474.5L398.3 481.1L399.3 487.7L400.2 486.8L401.2 481.1L402.1 486.8L403.1 490.6L404.0 492.5L404.9 493.4L405.9 492.5L406.8 494.3L407.6 486.8L408.2 489.6L408.9 498.1L409.8 491.5L410.8 490.6L411.7 491.5L412.8 491.7L413.7 492.6L414.6 494.5L415.6 492.6L416.5 497.4L417.5 490.8L418.4 497.4L419.4 498.3L420.3 498.3L421.2 488.9L422.2 484.2L423.1 494.5L424.1 503.0L425.0 501.1L426.0 493.6L426.7 488.9L427.5 495.5L428.2 503.0L429.2 497.4L429.9 496.4L430.7 491.7L431.6 499.2L432.6 493.6L433.5 498.3L434.5 500.2L435.4 491.7L436.3 494.5L437.3 501.1L438.2 505.8L439.2 500.2L439.8 497.4L440.5 502.1L441.4 503.0L442.4 504.0L443.3 501.1L444.3 497.4L445.2 504.9L446.2 507.7L447.1 505.8L448.0 502.1L449.0 504.9L449.9 506.8L450.9 505.8L451.8 501.1L452.8 498.3L453.7 504.9L454.6 509.6L455.6 506.8L456.5 503.0L457.5 499.2L458.2 501.1L459.2 506.8L460.1 508.7L461.1 506.8L462.0 504.9L462.9 503.0L463.9 505.8L464.8 506.8L465.8 502.1L466.7 498.3L467.7 504.0L468.6 508.7L469.7 505.8L470.8 501.7L471.7 503.6L472.6 508.3L473.6 504.5L474.5 506.4L475.5 500.8L476.4 505.5L477.4 508.3L478.3 506.4L479.2 502.6L479.8 499.8L480.6 505.5L481.5 509.2L482.5 508.3L483.4 503.6L484.2 504.5L484.9 508.3L485.7 504.5L486.4 506.4L487.2 504.5L487.7 498.9L488.3 493.2L489.1 505.5L489.8 508.3L490.6 507.4L491.5 500.8L492.3 497.9L493.0 503.6L493.8 508.3L494.7 504.5L495.7 497.9L496.4 500.8L497.4 507.4L498.3 510.2L499.2 506.4L500.2 501.7L501.1 504.5L502.1 509.2L503.0 510.2L504.0 507.4L504.9 505.5L505.8 508.3L506.8 511.1L507.7 510.2L508.7 507.4L509.6 509.2L510.6 512.1L511.5 513.0L512.5 508.3L513.4 506.4L514.3 510.2L515.3 513.0L516.2 514.0L517.2 511.1L518.1 510.2L519.1 512.1L520.0 513.0L520.9 511.1L521.9 511.1L522.8 510.2L523.8 511.1L524.7 510.2L525.7 511.1L526.6 510.2L527.5 509.2L529.3 508.9L530.6 510.5L531.9 508.1L533.2 507.2L534.5 509.7L535.8 507.2L537.1 508.1L538.4 510.5L539.8 508.9L541.1 509.7L542.4 511.3L543.7 510.5L545.0 509.7L546.3 510.5L547.3 505.6L548.2 511.3L549.6 510.5L550.9 509.7L552.2 511.3L553.5 510.5L554.8 511.3L556.1 510.5L557.1 507.2L558.0 512.1L559.3 511.3L560.7 510.5L562.0 512.1L563.3 510.5L564.6 511.3L565.9 512.1L567.2 510.5L568.5 508.9L569.8 512.1L571.1 511.3L572.4 510.5L573.7 509.7L575.0 513.0L576.3 511.3L577.6 508.9L578.3 515.4L579.3 510.5L580.2 508.1L581.2 513.0L582.5 510.5L583.8 507.2L585.1 513.0L586.1 510.5L587.4 508.9L588.7 510.5L589.4 504.8L590.4 512.1L591.7 510.5L593.0 513.0L594.3 509.7L595.6 510.5L596.9 512.1L598.2 511.3L599.8 512.1L601.5 511.3L603.1 513.0L604.7 512.1L606.4 513.0L608.0 513.0L609.6 513.8L611.3 513.0L612.2 505.6L613.2 513.0L614.5 512.1L616.2 512.6L617.8 512.1L619.4 513.0L621.1 512.1L622.7 511.3L624.3 512.1L626.0 511.3L627.6 510.5L629.2 512.1L630.9 513.0L631.8 513.0" fill="none" stroke="#ff8000" stroke-width="1.35" stroke-linejoin="round" clip-path="url(#pc)"/>
<path d="M64.0 605.6L64.8 608.4L65.5 615.0L66.4 611.2L67.3 610.3L68.2 612.2L69.2 614.1L70.1 613.1L71.1 611.2L72.0 610.3L73.0 609.3L73.9 609.3L74.8 608.4L75.8 606.5L76.7 605.6L77.7 606.5L78.6 604.6L79.6 602.7L80.5 601.8L81.5 606.5L82.7 612.6L83.6 606.5L84.6 605.6L85.5 606.5L86.5 601.8L87.4 603.7M89.0 612.2L89.9 606.5L90.9 603.7L91.8 605.6L92.8 610.3M95.6 604.6L96.5 607.5L97.5 611.2L98.4 605.6L99.4 603.7L100.3 606.5L101.3 609.3L101.7 610.3M103.4 602.7L104.4 606.5L105.3 609.3L106.3 610.3L106.9 611.2L107.6 605.6L108.5 604.6L109.3 602.7L110.0 597.5L110.8 603.7L111.4 611.2L112.1 599.9L112.9 591.4L113.5 590.5L114.2 598.0L114.9 604.6L115.4 607.5L116.1 589.5L116.8 582.5L117.8 588.6L118.5 589.5L119.2 595.2L119.8 598.0L120.6 586.7L121.5 588.6L122.0 589.6L122.9 591.5L123.9 599.1L124.8 600.0L126.0 592.5L126.9 587.7L127.7 593.4L128.4 602.8L129.4 592.5L130.3 595.3L131.2 599.1L132.4 602.8L133.3 590.6L134.3 594.3L135.2 600.9L136.2 594.3L137.1 596.2L138.0 599.1L139.0 596.2L139.9 592.5L140.9 589.6L141.8 590.6M143.5 579.2L144.5 582.1L145.4 584.0L146.3 584.0L147.1 581.1L147.8 578.3L148.6 572.6L149.4 580.2L150.3 587.7L151.1 573.6L151.8 566.0L152.4 560.4L153.1 568.9L153.9 574.5L154.8 580.2L155.8 568.9L156.5 563.2L157.3 573.6L158.0 578.3L158.8 575.5L159.5 582.1L160.3 578.3L161.2 575.5L162.1 588.7L163.0 578.3L163.7 583.0L164.6 586.8L165.6 589.6L166.3 596.2L167.1 590.6L168.0 591.5L169.0 587.7L169.9 584.9L170.9 589.6L171.8 593.4L172.8 594.3L173.7 587.7L174.6 585.8L175.6 594.3L176.5 597.2L177.7 580.2L178.6 585.8L179.5 590.6M180.8 583.7L181.7 575.7L182.6 579.7L183.8 589.7L184.7 579.7L185.8 574.7L186.8 585.7L188.0 598.7L189.0 585.7L190.2 574.7L191.1 579.7L192.3 600.7L193.4 580.7L194.3 572.7L195.3 579.7L196.5 599.7L197.5 585.7L198.7 569.7L199.6 574.7L200.8 597.7L201.9 579.7L202.9 564.7L203.8 575.7L205.0 600.7L206.2 580.7L207.2 564.7L208.3 586.7M215.1 579.7L215.8 584.7L216.8 590.7L217.7 591.7L218.7 580.7L219.6 569.7L220.6 575.7L221.5 591.7L222.5 593.7L223.4 592.7L224.3 584.7L225.3 586.7L226.2 596.7L227.2 587.7L228.1 582.7L229.1 578.7L229.8 582.7L230.8 595.7L231.7 593.7L232.6 583.7L233.6 571.7L234.5 583.7L235.7 597.7L236.6 583.7L237.5 570.7L238.8 571.7L239.4 575.7L240.4 583.7L241.3 576.7L242.2 585.7L243.2 588.7L244.1 585.7L244.8 581.7L245.5 576.7L246.3 587.7L247.0 589.7L247.7 583.7L248.4 584.7L249.1 583.7M275.5 580.2L274.2 589.2M284.7 560.7L285.2 574.7L286.1 566.7L287.1 577.7L288.0 575.7L288.9 563.7L289.9 569.7L290.8 575.7L291.6 579.7L292.5 561.7L293.5 570.7L294.6 582.7L295.5 584.7L296.0 565.7L296.9 564.7L297.7 578.7L298.6 587.7L299.6 591.7L300.5 578.7L301.5 568.7L302.4 584.7L303.4 598.7L304.3 575.7L305.2 551.2L306.2 570.7L307.1 592.7L307.9 605.7L308.8 583.7L309.8 558.2L310.7 578.7L311.5 594.7L312.4 588.7L313.4 572.7L314.3 581.7L315.2 572.7L316.2 581.7L317.1 574.7L318.1 570.7L318.8 565.7L319.6 573.7L320.3 579.7L321.1 584.7L321.8 573.7L322.6 562.2L323.4 570.7L324.1 578.7L324.9 576.7L325.6 580.7L326.4 560.7L327.1 559.7L328.1 567.7L328.8 572.7L329.6 579.7L330.5 563.7L331.5 552.2L332.4 570.7L333.4 580.7L334.3 571.7L335.1 558.7L335.8 565.7L336.6 578.7L337.3 586.7L338.3 570.7L339.2 562.7L339.8 557.7L340.5 568.7L341.5 583.7L342.2 585.7L343.2 575.7L344.1 569.7L345.1 581.7L345.8 591.7L346.8 574.7L347.5 563.7L348.5 572.7L349.4 575.7L350.3 582.7L351.3 557.7L352.2 582.7L353.0 581.7L353.9 574.7L354.9 566.3L355.9 584.3L356.8 591.3L357.8 579.3L358.9 568.3L359.8 578.3L360.6 584.3L361.4 599.3L362.3 584.3L363.2 568.3L364.0 581.3L364.9 592.3L365.9 599.3L366.8 586.3L367.8 580.3L368.7 589.3L369.7 599.3L370.6 590.3L371.5 590.8L372.5 593.3L373.6 600.3L374.6 592.3L375.5 586.3L376.5 586.3L377.4 601.3L378.1 607.3L378.9 596.3L379.8 576.3L380.6 579.3L381.5 598.3L382.5 596.3L383.4 589.3L384.4 579.3L385.3 586.3L386.3 598.3L387.2 596.3L388.2 583.3L388.7 579.8L389.7 586.3L390.6 588.3L391.5 598.3L392.5 586.3L393.1 585.3L394.0 591.3L394.9 593.3L395.9 596.3L396.8 584.3L397.4 582.3L398.3 589.3L399.3 596.3L400.2 595.3L401.2 589.3L402.1 595.3L403.1 599.3L404.0 601.3L404.9 602.3L405.9 601.3L406.8 603.3L407.6 595.3L408.2 598.3L408.9 607.3L409.8 600.3L410.8 599.3L412.0 597.6L412.8 599.5L413.7 601.4L414.6 606.1L415.6 603.3L416.5 604.2L417.5 600.5L418.4 608.0L419.4 609.0L420.3 608.0L421.2 599.5L422.2 592.9L423.1 603.3L424.1 611.8L425.0 610.8L426.0 602.4L426.7 597.6L427.5 604.2L428.2 610.8L429.2 604.2L429.9 603.3L430.7 599.5L431.6 606.1L432.6 602.4L433.5 607.1L434.5 608.0L435.4 599.5L436.3 603.3L437.3 609.0L438.2 611.8L439.2 608.0L439.8 606.1L440.5 609.9L441.4 610.8L442.4 611.8L443.3 608.0L444.3 606.1L445.2 611.8L446.2 615.6L447.1 613.7L448.0 611.8L449.0 613.7L449.9 615.6L450.9 614.6L451.8 609.0L452.8 607.1L453.7 611.8L454.6 616.5L455.6 614.6L456.5 610.8L457.5 608.0L458.2 609.9L459.2 613.7L460.1 615.6L461.1 614.6L462.0 612.7L462.9 610.8L463.9 613.7L464.8 615.6L465.8 609.9L466.7 603.3L467.7 608.0L468.6 615.6L469.7 616.5L470.8 609.5L471.7 612.4L472.6 615.2L473.6 612.4L474.5 613.3L475.5 609.5L476.4 612.4L477.4 615.2L478.3 613.3L479.2 608.6L479.8 607.6L480.6 612.4L481.5 616.1L482.5 614.2L483.4 610.5L484.2 612.4L484.9 613.3L485.7 611.4L486.4 610.5L487.2 608.6L487.7 603.9L488.3 599.6L489.1 608.6L489.8 614.2L490.6 613.3L491.5 606.7L492.3 604.8L493.0 611.4L493.8 616.1L494.7 613.3L495.7 608.6L496.4 607.6L497.4 613.3L498.3 618.0L499.2 615.2L500.2 610.5L501.1 612.4L502.1 617.1L503.0 618.0L504.0 615.2L504.9 613.3L505.8 615.2L506.8 617.1L507.7 618.0L508.7 616.1L509.6 617.1L510.6 619.0L511.5 619.0L512.5 616.1L513.4 615.2L514.3 618.0L515.3 619.9L516.2 619.0L517.2 618.0L518.1 619.0L519.1 619.9L520.0 619.0L520.9 618.5L521.9 618.0L522.8 617.5L523.8 617.1L524.7 616.1L525.7 617.5L526.6 616.1L527.5 616.6L529.3 615.5L530.6 617.1L531.9 614.7L533.2 613.1L534.2 612.2L535.2 616.3L536.5 613.1L537.8 618.0L539.4 616.3L541.1 615.5L542.7 617.1L544.3 616.3L546.0 617.1L547.6 618.0L549.2 617.1L550.9 616.3L552.5 618.0L554.1 617.6L555.8 618.8L557.4 618.3L559.0 618.8L560.7 617.6L562.3 618.8L563.9 618.0L565.6 618.3L567.2 616.3L568.5 618.3L569.8 616.3L571.1 618.8L572.4 618.0L573.7 617.6L575.0 618.3L576.3 615.5L577.3 621.2L578.3 618.0L579.3 613.9L580.2 615.5L581.2 612.2L582.2 616.3L583.5 612.2L584.8 618.0L586.1 614.7L587.4 618.0L588.7 613.1L589.7 618.0L591.0 618.8L592.7 616.3L594.3 618.8L595.9 618.3L597.6 618.0L599.2 618.8L600.8 619.3L602.4 619.6L604.1 619.3L605.7 619.6L607.3 619.3L609.0 619.6L610.6 618.8L612.2 619.3L613.9 618.3L615.5 619.3L617.1 618.3L618.8 618.0L620.4 617.1L622.0 618.8L623.7 616.3L625.3 618.0L626.9 618.8L628.6 619.3L630.5 619.9L631.8 619.6" fill="none" stroke="#ff0000" stroke-width="1.35" stroke-linejoin="round" clip-path="url(#pc)"/>
<rect x="64.1" y="4.55" width="567.3" height="106.08" fill="none" stroke="#000" stroke-width="1.3"/>
<rect x="64.1" y="110.63" width="567.3" height="106.08000000000001" fill="none" stroke="#000" stroke-width="1.3"/>
<rect x="64.1" y="216.71" width="567.3" height="106.08000000000001" fill="none" stroke="#000" stroke-width="1.3"/>
<rect x="64.1" y="322.79" width="567.3" height="106.07999999999998" fill="none" stroke="#000" stroke-width="1.3"/>
<rect x="64.1" y="428.87" width="567.3" height="106.08000000000004" fill="none" stroke="#000" stroke-width="1.3"/>
<rect x="64.1" y="534.95" width="567.3" height="106.07999999999993" fill="none" stroke="#000" stroke-width="1.3"/>
<path d="M102.7 0.0V4.5M102.7 106.4V114.8M102.7 212.5V220.9M102.7 318.6V327.0M102.7 424.7V433.1M102.7 530.8V539.2M102.7 641.0V645.8M160.4 2.0V4.5M160.4 108.4V112.8M160.4 214.5V218.9M160.4 320.6V325.0M160.4 426.7V431.1M160.4 532.8V537.2M160.4 641.0V643.8M218.2 0.0V4.5M218.2 106.4V114.8M218.2 212.5V220.9M218.2 318.6V327.0M218.2 424.7V433.1M218.2 530.8V539.2M218.2 641.0V645.8M275.9 2.0V4.5M275.9 108.4V112.8M275.9 214.5V218.9M275.9 320.6V325.0M275.9 426.7V431.1M275.9 532.8V537.2M275.9 641.0V643.8M333.6 0.0V4.5M333.6 106.4V114.8M333.6 212.5V220.9M333.6 318.6V327.0M333.6 424.7V433.1M333.6 530.8V539.2M333.6 641.0V645.8M391.3 2.0V4.5M391.3 108.4V112.8M391.3 214.5V218.9M391.3 320.6V325.0M391.3 426.7V431.1M391.3 532.8V537.2M391.3 641.0V643.8M449.1 0.0V4.5M449.1 106.4V114.8M449.1 212.5V220.9M449.1 318.6V327.0M449.1 424.7V433.1M449.1 530.8V539.2M449.1 641.0V645.8M506.8 2.0V4.5M506.8 108.4V112.8M506.8 214.5V218.9M506.8 320.6V325.0M506.8 426.7V431.1M506.8 532.8V537.2M506.8 641.0V643.8M564.5 0.0V4.5M564.5 106.4V114.8M564.5 212.5V220.9M564.5 318.6V327.0M564.5 424.7V433.1M564.5 530.8V539.2M564.5 641.0V645.8M622.3 2.0V4.5M622.3 108.4V112.8M622.3 214.5V218.9M622.3 320.6V325.0M622.3 426.7V431.1M622.3 532.8V537.2M622.3 641.0V643.8" stroke="#000" stroke-width="1.2" fill="none"/>
<text x="55.4" y="98.4" font-size="10.7" text-anchor="end">1.0</text>
<text x="55.4" y="82.6" font-size="10.7" text-anchor="end">1.5</text>
<text x="55.4" y="66.7" font-size="10.7" text-anchor="end">2.0</text>
<text x="55.4" y="50.9" font-size="10.7" text-anchor="end">2.5</text>
<text x="55.4" y="35.1" font-size="10.7" text-anchor="end">3.0</text>
<text x="55.4" y="19.2" font-size="10.7" text-anchor="end">3.5</text>
<text x="55.4" y="217.5" font-size="10.7" text-anchor="end">0.0000</text>
<text x="55.4" y="200.1" font-size="10.7" text-anchor="end">0.0002</text>
<text x="55.4" y="182.8" font-size="10.7" text-anchor="end">0.0004</text>
<text x="55.4" y="165.4" font-size="10.7" text-anchor="end">0.0006</text>
<text x="55.4" y="148.1" font-size="10.7" text-anchor="end">0.0008</text>
<text x="55.4" y="130.7" font-size="10.7" text-anchor="end">0.0010</text>
<text x="55.4" y="310.9" font-size="10.7" text-anchor="end">0</text>
<text x="57.0" y="281.4" font-size="10.4" text-anchor="end">5.0<tspan font-size="10">×</tspan>10<tspan dy="-4.2" font-size="7.2">−5</tspan></text>
<text x="57.0" y="251.8" font-size="10.4" text-anchor="end">1.0<tspan font-size="10">×</tspan>10<tspan dy="-4.2" font-size="7.2">−4</tspan></text>
<text x="57.0" y="222.2" font-size="10.4" text-anchor="end">1.5<tspan font-size="10">×</tspan>10<tspan dy="-4.2" font-size="7.2">−4</tspan></text>
<text x="57.0" y="424.6" font-size="10.4" text-anchor="end">1.4<tspan font-size="10">×</tspan>10<tspan dy="-4.2" font-size="7.2">−4</tspan></text>
<text x="57.0" y="409.1" font-size="10.4" text-anchor="end">1.6<tspan font-size="10">×</tspan>10<tspan dy="-4.2" font-size="7.2">−4</tspan></text>
<text x="57.0" y="393.6" font-size="10.4" text-anchor="end">1.8<tspan font-size="10">×</tspan>10<tspan dy="-4.2" font-size="7.2">−4</tspan></text>
<text x="57.0" y="378.1" font-size="10.4" text-anchor="end">2.0<tspan font-size="10">×</tspan>10<tspan dy="-4.2" font-size="7.2">−4</tspan></text>
<text x="57.0" y="362.5" font-size="10.4" text-anchor="end">2.2<tspan font-size="10">×</tspan>10<tspan dy="-4.2" font-size="7.2">−4</tspan></text>
<text x="57.0" y="347.0" font-size="10.4" text-anchor="end">2.4<tspan font-size="10">×</tspan>10<tspan dy="-4.2" font-size="7.2">−4</tspan></text>
<text x="57.0" y="331.5" font-size="10.4" text-anchor="end">2.6<tspan font-size="10">×</tspan>10<tspan dy="-4.2" font-size="7.2">−4</tspan></text>
<text x="55.4" y="533.1" font-size="10.7" text-anchor="end">0.005</text>
<text x="55.4" y="511.6" font-size="10.7" text-anchor="end">0.006</text>
<text x="55.4" y="490.1" font-size="10.7" text-anchor="end">0.007</text>
<text x="55.4" y="468.5" font-size="10.7" text-anchor="end">0.008</text>
<text x="55.4" y="447.0" font-size="10.7" text-anchor="end">0.009</text>
<text x="55.4" y="632.7" font-size="10.7" text-anchor="end">0.013</text>
<text x="55.4" y="617.2" font-size="10.7" text-anchor="end">0.014</text>
<text x="55.4" y="601.7" font-size="10.7" text-anchor="end">0.015</text>
<text x="55.4" y="586.3" font-size="10.7" text-anchor="end">0.016</text>
<text x="55.4" y="570.8" font-size="10.7" text-anchor="end">0.017</text>
<text x="55.4" y="555.3" font-size="10.7" text-anchor="end">0.018</text>
<text x="55.4" y="539.8" font-size="10.7" text-anchor="end">0.019</text>
<path d="M58.6 94.6H64.1M631.4 94.6H636.9M58.6 78.8H64.1M631.4 78.8H636.9M58.6 62.9H64.1M631.4 62.9H636.9M58.6 47.1H64.1M631.4 47.1H636.9M58.6 31.3H64.1M631.4 31.3H636.9M58.6 15.4H64.1M631.4 15.4H636.9M58.6 213.7H64.1M631.4 213.7H636.9M58.6 196.3H64.1M631.4 196.3H636.9M58.6 179.0H64.1M631.4 179.0H636.9M58.6 161.6H64.1M631.4 161.6H636.9M58.6 144.3H64.1M631.4 144.3H636.9M58.6 126.9H64.1M631.4 126.9H636.9M58.6 307.1H64.1M631.4 307.1H636.9M58.6 277.6H64.1M631.4 277.6H636.9M58.6 248.0H64.1M631.4 248.0H636.9M58.6 218.4H64.1M631.4 218.4H636.9M58.6 420.8H64.1M631.4 420.8H636.9M58.6 405.3H64.1M631.4 405.3H636.9M58.6 389.8H64.1M631.4 389.8H636.9M58.6 374.3H64.1M631.4 374.3H636.9M58.6 358.7H64.1M631.4 358.7H636.9M58.6 343.2H64.1M631.4 343.2H636.9M58.6 327.7H64.1M631.4 327.7H636.9M58.6 529.3H64.1M631.4 529.3H636.9M58.6 507.8H64.1M631.4 507.8H636.9M58.6 486.3H64.1M631.4 486.3H636.9M58.6 464.7H64.1M631.4 464.7H636.9M58.6 443.2H64.1M631.4 443.2H636.9M58.6 628.9H64.1M631.4 628.9H636.9M58.6 613.4H64.1M631.4 613.4H636.9M58.6 597.9H64.1M631.4 597.9H636.9M58.6 582.5H64.1M631.4 582.5H636.9M58.6 567.0H64.1M631.4 567.0H636.9M58.6 551.5H64.1M631.4 551.5H636.9M58.6 536.0H64.1M631.4 536.0H636.9" stroke="#000" stroke-width="1.2" fill="none"/>
<text x="102.7" y="658.5" font-size="11" text-anchor="middle">2011</text>
<text x="218.2" y="658.5" font-size="11" text-anchor="middle">2013</text>
<text x="333.6" y="658.5" font-size="11" text-anchor="middle">2015</text>
<text x="449.1" y="658.5" font-size="11" text-anchor="middle">2017</text>
<text x="564.5" y="658.5" font-size="11" text-anchor="middle">2019</text>
<text x="347.8" y="669.4" font-size="10.5" text-anchor="middle">Time (May 2010 to February 2020)</text>
<text transform="translate(33.3,57.1) rotate(-90)" font-size="10.6" text-anchor="middle">Mag flux (10<tspan dy="-4" font-size="7.0">23</tspan><tspan dy="4"> Mx)</tspan></text>
<text transform="translate(15.3,163.2) rotate(-90)" font-size="10.6" text-anchor="middle">Irradiance (W m<tspan dy="-4" font-size="7.0">−2</tspan><tspan dy="4">)</tspan></text>
<text transform="translate(10.5,269.2) rotate(-90)" font-size="10.6" text-anchor="middle">Irradiance (W m<tspan dy="-4" font-size="7.0">−2</tspan><tspan dy="4">)</tspan></text>
<text transform="translate(10.5,376.4) rotate(-90)" font-size="10.6" text-anchor="middle">Irradiance (W m<tspan dy="-4" font-size="7.0">−2</tspan><tspan dy="4">)</tspan></text>
<text transform="translate(21.1,482.0) rotate(-90)" font-size="10.6" text-anchor="middle">Irradiance (W m<tspan dy="-4" font-size="7.0">−2</tspan><tspan dy="4">)</tspan></text>
<text transform="translate(21.2,588.0) rotate(-90)" font-size="10.6" text-anchor="middle">Irradiance (W m<tspan dy="-4" font-size="7.0">−2</tspan><tspan dy="4">)</tspan></text>
<text x="75.8" y="21.9" font-size="12.6">Total magnetic flux</text>
<text x="75.8" y="128.0" font-size="12.6">X−rays 5.2−124 Å</text>
<text x="75.8" y="143.1" font-size="12.6">logT=6−7</text>
<text x="75.8" y="234.1" font-size="12.6">Fe XV 284 Å</text>
<text x="75.8" y="249.2" font-size="12.6">logT=6.4</text>
<text x="75.8" y="340.2" font-size="12.6">C II 1335 Å</text>
<text x="75.8" y="355.3" font-size="12.6">logT=4.3</text>
<text x="75.8" y="446.3" font-size="12.6">H I 1216 Å (Lyα )</text>
<text x="75.8" y="461.4" font-size="12.6">logT=4.3</text>
<text x="75.8" y="552.4" font-size="12.6">Mg II k 2796 Å</text>
<text x="75.8" y="567.5" font-size="12.6">logT=3.9</text>
<text x="609.6" y="35.1" font-size="21.5" text-anchor="end">a</text>
<text x="609.6" y="141.2" font-size="21.5" text-anchor="end">b</text>
<text x="609.6" y="247.3" font-size="21.5" text-anchor="end">c</text>
<text x="609.6" y="353.4" font-size="21.5" text-anchor="end">d</text>
<text x="609.6" y="459.5" font-size="21.5" text-anchor="end">e</text>
<text x="609.6" y="565.6" font-size="21.5" text-anchor="end">f</text>
<path d="M571.8 25.55H578.0" stroke="#000" stroke-width="1.2"/>
<path d="M571.8 132.03H578.0" stroke="#ff00ff" stroke-width="1.9"/>
<path d="M571.8 236.71H578.0M571.8 239.71H578.0M574.9 236.71V239.71" stroke="#0000ff" stroke-width="1.15" fill="none"/>
<rect x="571.8" y="342.49" width="6.2" height="3.6" fill="#1a7a0a" opacity="0.7"/>
<path d="M574.9 342.69V345.89" stroke="#1a7a0a" stroke-width="1.3"/>
<rect x="571.8" y="448.57" width="6.2" height="3.6" fill="#ff8000" opacity="0.7"/>
<path d="M574.9 448.77V451.97" stroke="#ff8000" stroke-width="1.3"/>
<path d="M571.8 554.95H578.0M571.8 557.95H578.0M574.9 554.95V557.95" stroke="#ff0000" stroke-width="1.15" fill="none"/>
<text x="489.8" y="104.9" font-size="10.4">Basal flux: 1.18<tspan font-size="10">×</tspan>10<tspan dy="-4.2" font-size="6.8">23</tspan><tspan dy="4.2"> Mx</tspan></text>
<text x="489.8" y="211.0" font-size="10.4">Basal flux: 2.11<tspan font-size="10">×</tspan>10<tspan dy="-4.2" font-size="6.8">−4</tspan><tspan dy="4.2"> W m</tspan><tspan dy="-4.2" font-size="6.8">−2</tspan></text>
<text x="489.8" y="317.1" font-size="10.4">Basal flux: 9.36<tspan font-size="10">×</tspan>10<tspan dy="-4.2" font-size="6.8">−6</tspan><tspan dy="4.2"> W m</tspan><tspan dy="-4.2" font-size="6.8">−2</tspan></text>
<text x="489.8" y="423.2" font-size="10.4">Basal flux: 1.57<tspan font-size="10">×</tspan>10<tspan dy="-4.2" font-size="6.8">−4</tspan><tspan dy="4.2"> W m</tspan><tspan dy="-4.2" font-size="6.8">−2</tspan></text>
<text x="489.8" y="529.2" font-size="10.4">Basal flux: 5.73<tspan font-size="10">×</tspan>10<tspan dy="-4.2" font-size="6.8">−3</tspan><tspan dy="4.2"> W m</tspan><tspan dy="-4.2" font-size="6.8">−2</tspan></text>
<text x="489.8" y="635.3" font-size="10.4">Basal flux: 0.0136 W m<tspan dy="-4.2" font-size="6.8">−2</tspan></text>
</svg></body></html>
